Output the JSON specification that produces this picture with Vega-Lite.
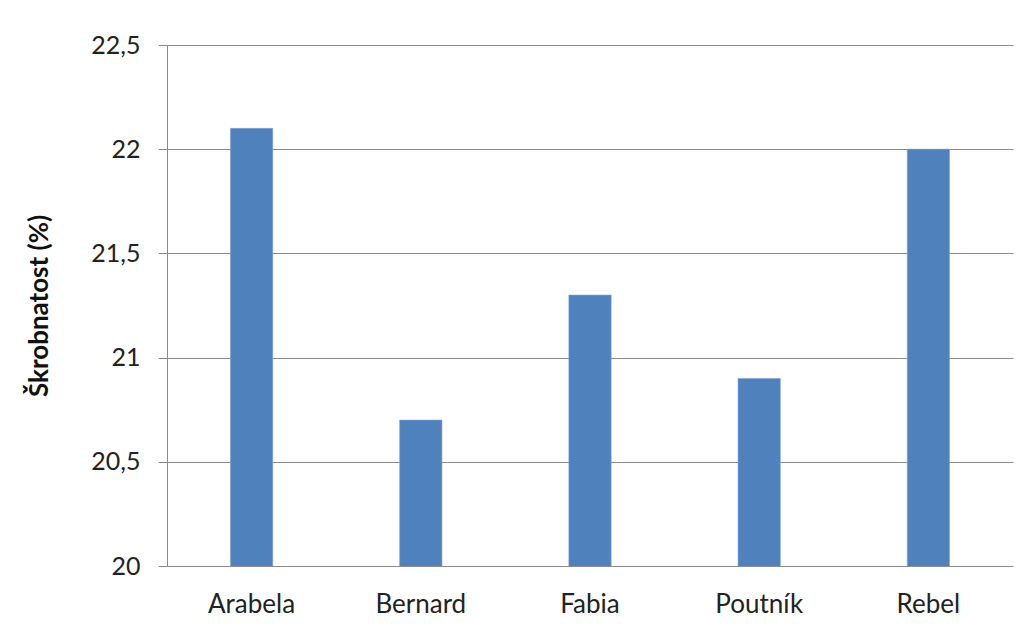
{
  "$schema": "https://vega.github.io/schema/vega-lite/v6.json",
  "width": 846,
  "height": 521,
  "autosize": "none",
  "padding": {"left": 167, "top": 45, "right": 17, "bottom": 64},
  "background": "white",
  "config": {
    "locale": {
      "number": {"decimal": ",", "thousands": " ", "grouping": [3], "currency": ["", " Kč"]}
    },
    "view": {"stroke": null},
    "font": "Lato"
  },
  "data": {
    "values": [
      {"odruda": "Arabela", "skrobnatost": 22.1},
      {"odruda": "Bernard", "skrobnatost": 20.7},
      {"odruda": "Fabia", "skrobnatost": 21.3},
      {"odruda": "Poutník", "skrobnatost": 20.9},
      {"odruda": "Rebel", "skrobnatost": 22.0}
    ]
  },
  "mark": {"type": "bar", "clip": true, "color": "#4F81BD", "stroke": "#7FA3D3", "strokeWidth": 0.6, "width": {"band": 0.25}},
  "encoding": {
    "x": {
      "field": "odruda",
      "type": "nominal",
      "sort": null,
      "scale": {"paddingInner": 0, "paddingOuter": 0},
      "axis": {
        "title": null,
        "labelAngle": 0,
        "labelFont": "Lato",
        "labelFontSize": 26,
        "labelColor": "#222222",
        "labelPadding": 25,
        "ticks": false,
        "domain": false,
        "grid": false
      }
    },
    "y": {
      "field": "skrobnatost",
      "type": "quantitative",
      "scale": {"domain": [20, 22.5], "zero": false, "nice": false},
      "axis": {
        "title": "Škrobnatost (%)",
        "titleFont": "Lato",
        "titleFontSize": 26,
        "titleFontWeight": "bold",
        "titleColor": "#111111",
        "titlePadding": 38,
        "values": [20, 20.5, 21, 21.5, 22, 22.5],
        "format": "~g",
        "labelFont": "Lato",
        "labelFontSize": 25,
        "labelColor": "#222222",
        "labelPadding": 18,
        "tickSize": 9,
        "tickColor": "#8C8C8C",
        "domainColor": "#8C8C8C",
        "grid": true,
        "gridColor": "#8C8C8C",
        "gridWidth": 1.2
      }
    }
  }
}
